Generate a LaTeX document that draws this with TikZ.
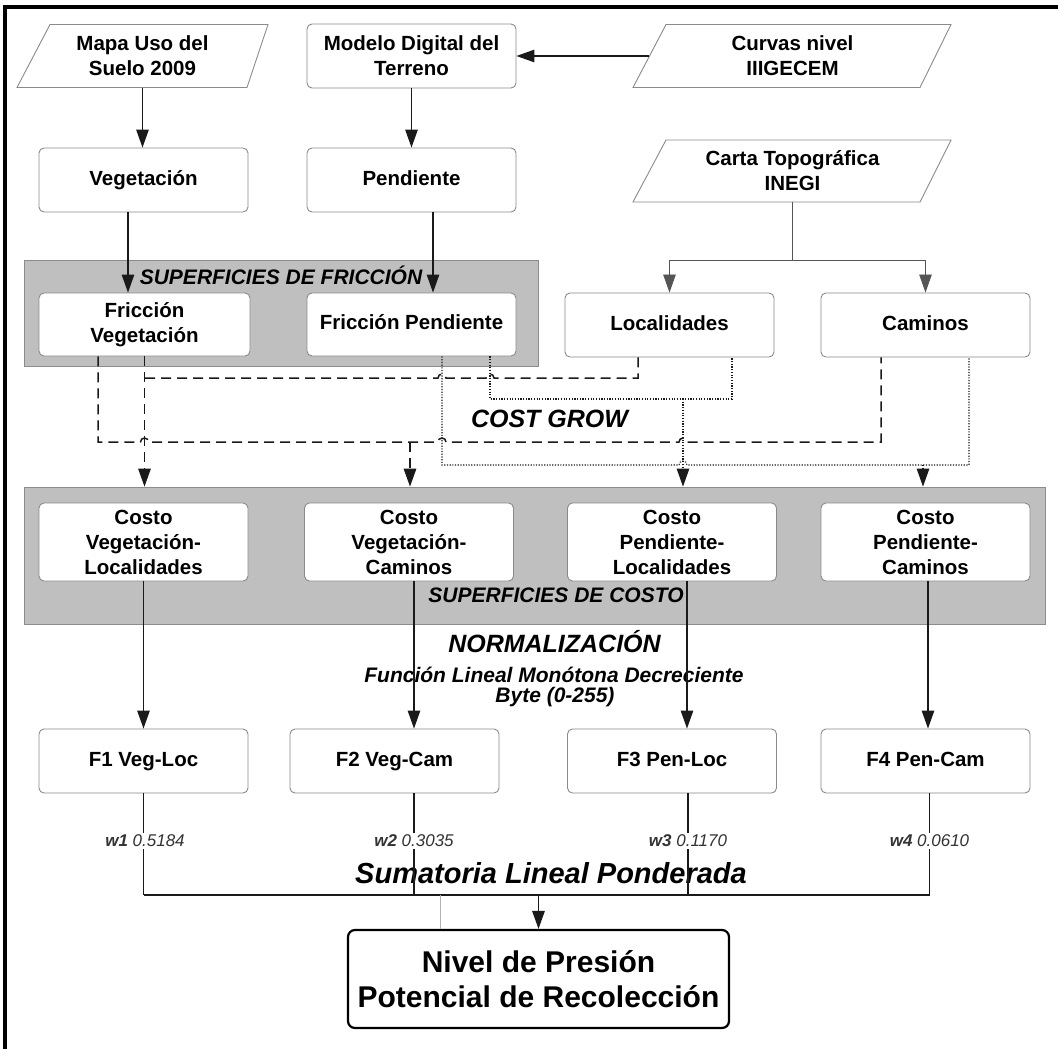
\documentclass[tikz,border=0pt]{standalone}
\usepackage{fontspec}
\setmainfont{Liberation Sans}
\usetikzlibrary{arrows.meta,calc}
\definecolor{bandgray}{HTML}{BFBFBF}
\definecolor{bandedge}{HTML}{8C8C8C}
\definecolor{boxedge}{HTML}{8A8A8A}
\definecolor{linedark}{HTML}{1A1A1A}
\definecolor{thingray}{HTML}{555555}
\definecolor{numgray}{HTML}{333333}
\tikzset{
  boxn/.style={draw=boxedge, line width=0.9pt, rounded corners=5pt, fill=white,
    minimum width=209pt, minimum height=64pt, align=center, inner sep=1.5pt,
    font=\fontsize{20.5}{25}\selectfont\bfseries},
  oneline/.style={text height=15pt, text depth=4.5pt},
  paran/.style={minimum height=63pt, align=center, inner sep=1.5pt,
    font=\fontsize{20.5}{25}\selectfont\bfseries},
  paraline/.style={draw=boxedge, line width=0.9pt},
  band/.style={fill=bandgray, draw=bandedge, line width=0.8pt, inner sep=0pt},
  bandtxt/.style={font=\fontsize{21}{25}\selectfont\bfseries\itshape},
  bigtxt/.style={font=\fontsize{25}{30}\selectfont\bfseries\itshape},
  midtxt/.style={font=\fontsize{21}{25}\selectfont\bfseries\itshape},
  sumtxt/.style={font=\fontsize{29}{34}\selectfont\bfseries\itshape},
  wlab/.style={fill=white, inner sep=2pt, font=\fontsize{17}{20}\selectfont\itshape, text=numgray},
  nivelbox/.style={draw=black, line width=2.2pt, rounded corners=7pt, fill=white,
    minimum width=381pt, minimum height=98pt, align=center,
    font=\fontsize{30}{35}\selectfont\bfseries},
  conn/.style={draw=linedark, line width=1.2pt},
  myarr/.style={conn, -{Triangle[length=18pt,width=12.5pt]}},
  thinl/.style={draw=thingray, line width=0.8pt},
  thinarr/.style={thinl, -{Triangle[length=18pt,width=12.5pt]}},
  dashl/.style={draw=linedark, line width=1.5pt, dash pattern=on 10pt off 6pt},
  dasharr/.style={dashl, -{Triangle[length=18pt,width=12.5pt]}},
  dotl/.style={draw=linedark, line width=1.1pt, dash pattern=on 1.2pt off 1.5pt},
  dotarr/.style={dotl, -{Triangle[length=18pt,width=12.5pt]}},
}
\begin{document}
\begin{tikzpicture}[x=1pt,y=-1pt]
\useasboundingbox (0,0) rectangle (1058,1049);
\fill[white] (0,0) rectangle (1058,1049);
% frame
\draw[line width=3.5pt] (5,1049) -- (5,7) -- (1058,7);

% bands
\node[band, minimum width=514pt, minimum height=106pt] (band1) at (281,313) {};
\node[band, minimum width=1021pt, minimum height=137pt] (band2) at (534.5,555.5) {};
\node[bandtxt] (t1) at (281,275) {SUPERFICIES DE FRICCIÓN};
\node[bandtxt] (t2) at (556,595) {SUPERFICIES DE COSTO};

% free texts
\node[bigtxt] (cg) at (549.5,419) {COST GROW};
\node[bigtxt] (norm) at (554.5,642) {NORMALIZACIÓN};
\node[midtxt] (func) at (554,675) {Función Lineal Monótona Decreciente};
\node[midtxt] (byte) at (555,697) {Byte (0-255)};
\node[sumtxt] (suma) at (551,873) {Sumatoria Lineal Ponderada};

% parallelograms
\node[paran, minimum width=224pt] (mapa) at (142.5,56) {Mapa Uso del\\Suelo 2009};
\draw[paraline] ($(mapa.center)+(-92.5,-31.5)$) -- ($(mapa.center)+(125.5,-31.5)$)
  -- ($(mapa.center)+(104.5,31.5)$) -- ($(mapa.center)+(-125.5,31.5)$) -- cycle;
\node[paran, minimum width=286pt] (curvas) at (792.5,56) {Curvas nivel\\IIIGECEM};
\draw[paraline] ($(curvas.center)+(-126.5,-31.5)$) -- ($(curvas.center)+(158.5,-31.5)$)
  -- ($(curvas.center)+(127.5,31.5)$) -- ($(curvas.center)+(-159.5,31.5)$) -- cycle;
\node[paran, minimum width=286pt, minimum height=62pt] (carta) at (792.5,171) {Carta Topográfica\\INEGI};
\draw[paraline] ($(carta.center)+(-126.5,-31)$) -- ($(carta.center)+(158.5,-31)$)
  -- ($(carta.center)+(127.5,31)$) -- ($(carta.center)+(-159.5,31)$) -- cycle;

% boxes
\node[boxn] (modelo) at (411.5,56) {Modelo Digital del\\Terreno};
\node[boxn, oneline] (veg) at (143.5,180) {Vegetación};
\node[boxn, oneline] (pend) at (411.5,180) {Pendiente};
\node[boxn, minimum width=211pt, minimum height=63pt] (fricveg) at (144.5,324.5) {Fricción\\Vegetación};
\node[boxn, oneline, minimum height=63pt] (fricpend) at (411.5,324.5) {Fricción Pendiente};
\node[boxn, oneline] (loc) at (669.5,325) {Localidades};
\node[boxn, oneline] (cam) at (925.5,325) {Caminos};
\node[boxn, minimum height=78pt] (cvl) at (143.5,542) {Costo\\Vegetación-\\Localidades};
\node[boxn, minimum height=78pt] (cvc) at (409,542) {Costo\\Vegetación-\\Caminos};
\node[boxn, minimum height=78pt] (cpl) at (672,542) {Costo\\Pendiente-\\Localidades};
\node[boxn, minimum height=78pt] (cpc) at (925.5,542) {Costo\\Pendiente-\\Caminos};
\node[boxn, oneline] (f1) at (143.5,761) {F1 Veg-Loc};
\node[boxn, oneline] (f2) at (394.5,761) {F2 Veg-Cam};
\node[boxn, oneline] (f3) at (672,761) {F3 Pen-Loc};
\node[boxn, oneline] (f4) at (925.5,761) {F4 Pen-Cam};
\node[nivelbox] (nivel) at (538.5,979) {Nivel de Presión\\Potencial de Recolección};

% top connectors
\draw[myarr] (mapa.south) -- (mapa.south |- veg.north);
\draw[myarr] (modelo.south) -- (pend.north);
\draw[myarr] (curvas.west) -- (modelo.east);
\draw[myarr] ([xshift=-15.5pt]veg.south) -- ([xshift=-15.5pt]veg.south |- fricveg.north);
\draw[myarr] ([xshift=21.5pt]pend.south) -- ([xshift=21.5pt]pend.south |- fricpend.north);
\coordinate (cj) at (792.5,260);
\draw[thinl] (carta.south) -- (cj);
\draw[thinarr] (cj) -| (loc.north);
\draw[thinarr] (cj) -| (cam.north);

% dashed (vegetation based)
\draw[dasharr] (fricveg.south) -- (fricveg.south |- band2.north);
\draw[dashl] ([xshift=-31.5pt]loc.south) |- (494,378)
  arc[start angle=0,end angle=180,radius=4pt] -- (446,378)
  arc[start angle=0,end angle=180,radius=4pt] -- (144.5,378);
\draw[dashl] ([xshift=-46.5pt]fricveg.south) |- (140.5,442)
  arc[start angle=180,end angle=0,radius=4pt] -- (438,442)
  arc[start angle=180,end angle=0,radius=4pt] -- (679,442)
  arc[start angle=180,end angle=0,radius=4pt] -- (881,442) -- ([xshift=-44.5pt]cam.south);
\coordinate (dj2) at (410,442);
\draw[dasharr] (dj2) -- (dj2 |- band2.north);

% dotted (slope based)
\coordinate (tj1) at (683,399);
\draw[dotl] ([xshift=78.5pt]fricpend.south) |- (tj1) -| ([xshift=62.5pt]loc.south);
\draw[dotarr] (tj1) -- (tj1 |- band2.north);
\coordinate (tj2) at (923,465);
\draw[dotl] ([xshift=30.5pt]fricpend.south) |- (679,465)
  arc[start angle=180,end angle=0,radius=4pt] -- (tj2) -| ([xshift=43.5pt]cam.south);
\draw[dotarr] (tj2) -- (tj2 |- band2.north);

% cost -> F
\draw[myarr] (cvl.south) -- (f1.north);
\draw[myarr] ([xshift=5pt]cvc.south) -- ([xshift=5pt]cvc.south |- f2.north);
\draw[myarr] ([xshift=15pt]cpl.south) -- ([xshift=15pt]cpl.south |- f3.north);
\draw[myarr] ([xshift=2.5pt]cpc.south) -- ([xshift=2.5pt]cpc.south |- f4.north);

% weighted sum
\coordinate (sumrow) at (0,895);
\draw[conn] (f1.south) -- (f1.south |- sumrow);
\draw[conn] ([xshift=19.5pt]f2.south) -- ([xshift=19.5pt]f2.south |- sumrow);
\draw[conn] ([xshift=16pt]f3.south) -- ([xshift=16pt]f3.south |- sumrow);
\draw[conn] ([xshift=4pt]f4.south) -- ([xshift=4pt]f4.south |- sumrow);
\draw[conn, line width=1.4pt] (f1.south |- sumrow) -- ([xshift=4pt]f4.south |- sumrow);
\coordinate (sj) at (538.5,895);
\draw[myarr] (sj) -- (nivel.north);
\coordinate (gl) at (440,895);
\draw[draw=gray!60, line width=0.7pt] (gl) -- (gl |- nivel.north);

\node[wlab] (w1) at (145,841) {\textbf{w1} 0.5184};
\node[wlab] (w2) at (414,841) {\textbf{w2} 0.3035};
\node[wlab] (w3) at (688,841) {\textbf{w3} 0.1170};
\node[wlab] (w4) at (929.5,841) {\textbf{w4} 0.0610};
\end{tikzpicture}
\end{document}
